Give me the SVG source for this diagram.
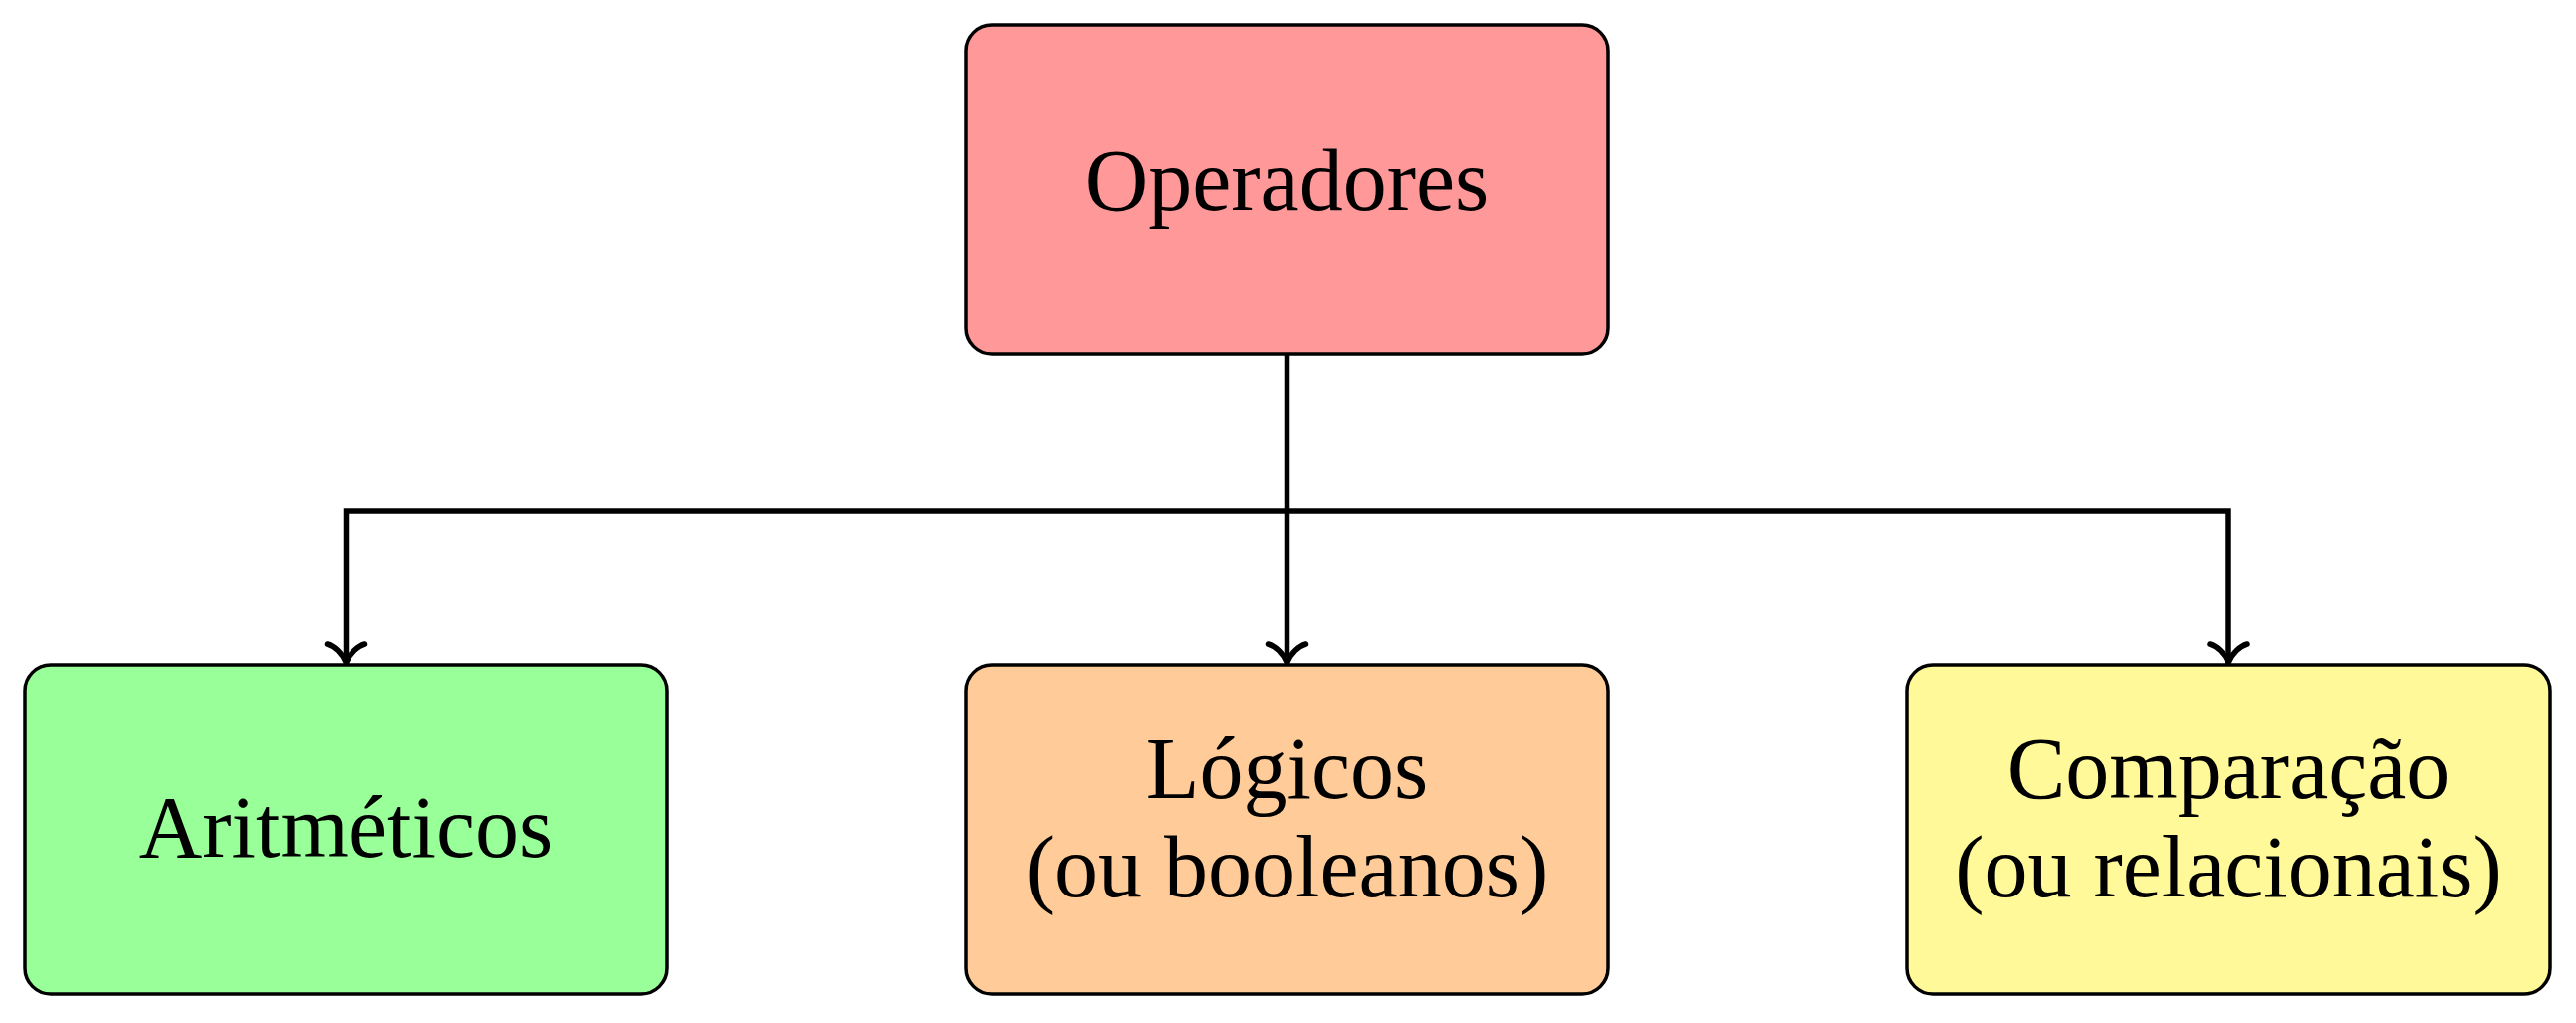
<svg xmlns="http://www.w3.org/2000/svg" width="2587" height="1027" viewBox="0 0 2587 1027">
  <style>
    .box { stroke: #000; stroke-width: 3.5; }
    .lbl { font-family: "Liberation Serif", "Times New Roman", serif; font-size: 88px; fill: #000; text-anchor: middle; }
    .wire { fill: none; stroke: #000; stroke-width: 5.5; }
    .tip { fill: none; stroke: #000; stroke-width: 5.5; stroke-linecap: round; stroke-linejoin: round; }
  </style>
  <defs>
    <path id="arrowTip" class="tip" d="M -19,-19 C -12,-17 -4,-10 0,0 C 4,-10 12,-17 19,-19"/>
  </defs>
  <rect width="2587" height="1027" fill="#fff"/>

  <g id="connectors">
    <path class="wire" d="M 1292.5,355 L 1292.5,666"/>
    <path class="wire" d="M 347.5,666 L 347.5,513 L 2238,513 L 2238,666"/>
    <use href="#arrowTip" x="347.5" y="666"/>
    <use href="#arrowTip" x="1292.5" y="666"/>
    <use href="#arrowTip" x="2238" y="666"/>
  </g>

  <g id="operadores">
    <rect class="box" x="970" y="25" width="645" height="330" rx="26" fill="#FF9999"/>
    <text class="lbl" x="1292.5" y="211">Operadores</text>
  </g>

  <g id="aritmeticos">
    <rect class="box" x="25" y="668" width="645" height="330" rx="26" fill="#99FF99"/>
    <text class="lbl" x="347.5" y="860">Aritméticos</text>
  </g>

  <g id="logicos">
    <rect class="box" x="970" y="668" width="645" height="330" rx="26" fill="#FFCC99"/>
    <text class="lbl" x="1292.5" y="801">Lógicos</text>
    <text class="lbl" x="1292.5" y="900">(ou booleanos)</text>
  </g>

  <g id="comparacao">
    <rect class="box" x="1915" y="668" width="646" height="330" rx="26" fill="#FFF999"/>
    <text class="lbl" x="2238" y="801">Comparação</text>
    <text class="lbl" x="2238" y="900">(ou relacionais)</text>
  </g>
</svg>
